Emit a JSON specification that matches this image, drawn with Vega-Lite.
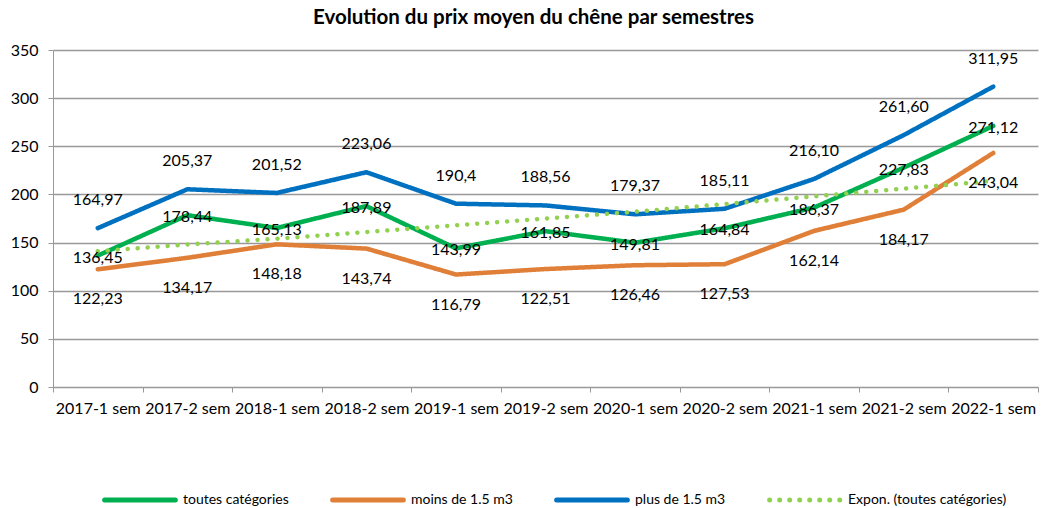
{
  "$schema": "https://vega.github.io/schema/vega-lite/v6.json",
  "autosize": {"type": "none"},
  "width": 985,
  "height": 337,
  "padding": {"left": 53, "top": 50, "right": 3, "bottom": 121},
  "background": "white",
  "title": {"text": "Evolution du prix moyen du chêne par semestres", "anchor": "middle", "font": "Lato", "fontSize": 20.5, "fontWeight": "bold", "color": "#000000", "offset": 14, "dx": -12},
  "data": {"values": [
    {"sem": "2017-1 sem", "serie": "toutes catégories", "value": 136.45, "label": "136,45"},
    {"sem": "2017-2 sem", "serie": "toutes catégories", "value": 178.44, "label": "178,44"},
    {"sem": "2018-1 sem", "serie": "toutes catégories", "value": 165.13, "label": "165,13"},
    {"sem": "2018-2 sem", "serie": "toutes catégories", "value": 187.89, "label": "187,89"},
    {"sem": "2019-1 sem", "serie": "toutes catégories", "value": 143.99, "label": "143,99"},
    {"sem": "2019-2 sem", "serie": "toutes catégories", "value": 161.85, "label": "161,85"},
    {"sem": "2020-1 sem", "serie": "toutes catégories", "value": 149.81, "label": "149,81"},
    {"sem": "2020-2 sem", "serie": "toutes catégories", "value": 164.84, "label": "164,84"},
    {"sem": "2021-1 sem", "serie": "toutes catégories", "value": 186.37, "label": "186,37"},
    {"sem": "2021-2 sem", "serie": "toutes catégories", "value": 227.83, "label": "227,83"},
    {"sem": "2022-1 sem", "serie": "toutes catégories", "value": 271.12, "label": "271,12"},
    {"sem": "2017-1 sem", "serie": "moins de 1.5 m3", "value": 122.23, "label": "122,23"},
    {"sem": "2017-2 sem", "serie": "moins de 1.5 m3", "value": 134.17, "label": "134,17"},
    {"sem": "2018-1 sem", "serie": "moins de 1.5 m3", "value": 148.18, "label": "148,18"},
    {"sem": "2018-2 sem", "serie": "moins de 1.5 m3", "value": 143.74, "label": "143,74"},
    {"sem": "2019-1 sem", "serie": "moins de 1.5 m3", "value": 116.79, "label": "116,79"},
    {"sem": "2019-2 sem", "serie": "moins de 1.5 m3", "value": 122.51, "label": "122,51"},
    {"sem": "2020-1 sem", "serie": "moins de 1.5 m3", "value": 126.46, "label": "126,46"},
    {"sem": "2020-2 sem", "serie": "moins de 1.5 m3", "value": 127.53, "label": "127,53"},
    {"sem": "2021-1 sem", "serie": "moins de 1.5 m3", "value": 162.14, "label": "162,14"},
    {"sem": "2021-2 sem", "serie": "moins de 1.5 m3", "value": 184.17, "label": "184,17"},
    {"sem": "2022-1 sem", "serie": "moins de 1.5 m3", "value": 243.04, "label": "243,04"},
    {"sem": "2017-1 sem", "serie": "plus de 1.5 m3", "value": 164.97, "label": "164,97"},
    {"sem": "2017-2 sem", "serie": "plus de 1.5 m3", "value": 205.37, "label": "205,37"},
    {"sem": "2018-1 sem", "serie": "plus de 1.5 m3", "value": 201.52, "label": "201,52"},
    {"sem": "2018-2 sem", "serie": "plus de 1.5 m3", "value": 223.06, "label": "223,06"},
    {"sem": "2019-1 sem", "serie": "plus de 1.5 m3", "value": 190.4, "label": "190,4"},
    {"sem": "2019-2 sem", "serie": "plus de 1.5 m3", "value": 188.56, "label": "188,56"},
    {"sem": "2020-1 sem", "serie": "plus de 1.5 m3", "value": 179.37, "label": "179,37"},
    {"sem": "2020-2 sem", "serie": "plus de 1.5 m3", "value": 185.11, "label": "185,11"},
    {"sem": "2021-1 sem", "serie": "plus de 1.5 m3", "value": 216.10, "label": "216,10"},
    {"sem": "2021-2 sem", "serie": "plus de 1.5 m3", "value": 261.60, "label": "261,60"},
    {"sem": "2022-1 sem", "serie": "plus de 1.5 m3", "value": 311.95, "label": "311,95"},
    {"sem": "2017-1 sem", "serie": "Expon. (toutes catégories)", "value": 141},
    {"sem": "2017-2 sem", "serie": "Expon. (toutes catégories)", "value": 148},
    {"sem": "2018-1 sem", "serie": "Expon. (toutes catégories)", "value": 154},
    {"sem": "2018-2 sem", "serie": "Expon. (toutes catégories)", "value": 161},
    {"sem": "2019-1 sem", "serie": "Expon. (toutes catégories)", "value": 168},
    {"sem": "2019-2 sem", "serie": "Expon. (toutes catégories)", "value": 175},
    {"sem": "2020-1 sem", "serie": "Expon. (toutes catégories)", "value": 182},
    {"sem": "2020-2 sem", "serie": "Expon. (toutes catégories)", "value": 190},
    {"sem": "2021-1 sem", "serie": "Expon. (toutes catégories)", "value": 198},
    {"sem": "2021-2 sem", "serie": "Expon. (toutes catégories)", "value": 206},
    {"sem": "2022-1 sem", "serie": "Expon. (toutes catégories)", "value": 214}
  ]},
  "encoding": {
    "x": {"field": "sem", "type": "nominal", "sort": null, "bandPosition": 0.5,
      "scale": {"type": "band", "paddingInner": 0, "paddingOuter": 0},
      "axis": {"title": null, "labelAngle": 0, "tickBand": "extent", "domainColor": "#999999", "tickColor": "#999999", "tickSize": 5, "labelPadding": 8, "labelFont": "Lato", "labelFontSize": 16, "labelColor": "#000000", "grid": false}},
    "y": {"field": "value", "type": "quantitative", "scale": {"domain": [0, 350], "nice": false},
      "axis": {"title": null, "values": [0, 50, 100, 150, 200, 250, 300, 350], "domain": true, "domainColor": "#999999", "tickColor": "#999999", "tickSize": 5, "labelPadding": 10, "labelFont": "Lato", "labelFontSize": 16, "labelColor": "#000000", "grid": true, "gridColor": "#999999", "gridWidth": 1.5}}
  },
  "layer": [
    {
      "mark": {"type": "line", "strokeWidth": 4.5, "strokeCap": "round", "strokeJoin": "round"},
      "encoding": {
        "color": {"field": "serie", "type": "nominal",
          "scale": {"domain": ["toutes catégories", "moins de 1.5 m3", "plus de 1.5 m3", "Expon. (toutes catégories)"], "range": ["#00B050", "#E07F37", "#0070C0", "#92D050"]},
          "legend": {"title": null, "orient": "none", "legendX": 49, "legendY": 412, "direction": "horizontal", "columns": 4, "columnPadding": 33, "symbolType": "stroke", "symbolSize": 5000, "symbolStrokeWidth": 5, "labelFont": "Lato", "labelFontSize": 14, "labelColor": "#000000", "labelOffset": 5,
            "encode": {"symbols": {"update": {"strokeCap": {"value": "round"}}}}},
          "sort": null},
        "strokeDash": {"field": "serie", "type": "nominal",
          "scale": {"domain": ["toutes catégories", "moins de 1.5 m3", "plus de 1.5 m3", "Expon. (toutes catégories)"], "range": [[1, 0], [1, 0], [1, 0], [0.01, 10]]},
          "legend": null}
      }
    },
    {
      "transform": [{"filter": "datum.serie === 'plus de 1.5 m3'"}],
      "mark": {"type": "text", "font": "Lato", "fontSize": 16, "color": "#000000", "dy": -28, "baseline": "middle"},
      "encoding": {"text": {"field": "label"}}
    },
    {
      "transform": [{"filter": "datum.serie === 'moins de 1.5 m3'"}],
      "mark": {"type": "text", "font": "Lato", "fontSize": 16, "color": "#000000", "dy": 30, "baseline": "middle"},
      "encoding": {"text": {"field": "label"}}
    },
    {
      "transform": [{"filter": "datum.serie === 'toutes catégories'"}],
      "mark": {"type": "text", "font": "Lato", "fontSize": 16, "color": "#000000", "dy": 2, "baseline": "middle"},
      "encoding": {"text": {"field": "label"}}
    }
  ],
  "config": {"view": {"stroke": null}}
}
